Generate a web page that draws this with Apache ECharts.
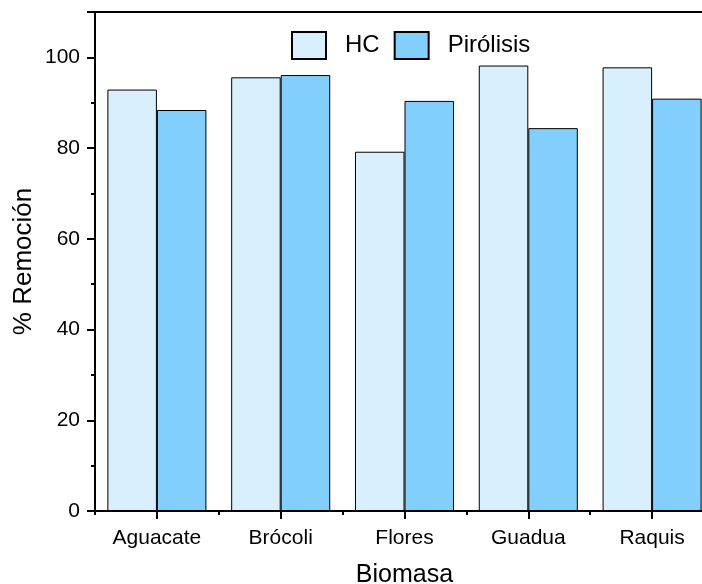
<!DOCTYPE html>
<html>
<head>
<meta charset="utf-8">
<script src="https://cdn.jsdelivr.net/npm/echarts@6/dist/echarts.min.js"></script>
<style>
html,body{margin:0;padding:0;background:#fff;}
#chart{width:702px;height:584px;}
</style>
</head>
<body>
<div id="chart"></div>
<script>
var categories = ['Aguacate', 'Brócoli', 'Flores', 'Guadua', 'Raquis'];
var hcValues = [92.9, 95.6, 79.2, 98.2, 97.8];
var pirolisisValues = [88.4, 96.1, 90.4, 84.4, 90.9];
var seriesNames = ['HC', 'Pirólisis'];
var yTickLabels = [0, 20, 40, 60, 80, 100];

var FONT = '"Liberation Sans", Arial, sans-serif';
var chart = echarts.init(document.getElementById('chart'), null, {renderer: 'canvas'});
chart.setOption({
  animation: false,
  backgroundColor: '#fff',
  textStyle: {fontFamily: FONT, color: '#000'},
  grid: {
    left: 95, top: 12, right: -12, bottom: 73,
    outerBoundsMode: 'none',
    containLabel: false,
    show: true, borderColor: '#000', borderWidth: 2, backgroundColor: 'transparent'
  },
  legend: {
    left: 291, top: 31, padding: 0,
    itemWidth: 34, itemHeight: 27, itemGap: 14,
    icon: 'rect',
    data: seriesNames,
    textStyle: {fontFamily: FONT, fontSize: 24, color: '#000', padding: [0, 0, 0, 14]}
  },
  xAxis: [{
    type: 'category',
    data: categories,
    position: 'bottom',
    name: 'Biomasa',
    nameLocation: 'middle',
    nameGap: 52,
    nameTextStyle: {fontFamily: FONT, fontSize: 25, color: '#000'},
    axisLine: {show: true, lineStyle: {color: '#000', width: 2}},
    axisTick: {show: true, alignWithLabel: true, length: 8, lineStyle: {color: '#000', width: 2}},
    axisLabel: {fontFamily: FONT, fontSize: 21, color: '#000', margin: 17},
    splitLine: {show: false}
  }, {
    type: 'category',
    data: categories,
    position: 'bottom',
    axisLine: {show: false},
    axisTick: {show: true, length: 4, lineStyle: {color: '#000', width: 2}},
    axisLabel: {show: false},
    splitLine: {show: false}
  }],
  yAxis: {
    type: 'value',
    min: 0, max: 110, interval: 20,
    name: '% Remoción',
    nameLocation: 'middle',
    nameGap: 58,
    nameMoveOverlap: false,
    nameTextStyle: {fontFamily: FONT, fontSize: 26, color: '#000'},
    axisLine: {show: true, lineStyle: {color: '#000', width: 2}},
    axisTick: {show: true, length: 8, lineStyle: {color: '#000', width: 2}},
    minorTick: {show: true, splitNumber: 2, length: 4, lineStyle: {color: '#000', width: 2}},
    axisLabel: {
      fontFamily: FONT, fontSize: 21, color: '#000', margin: 15,
      showMaxLabel: false,
      formatter: function (v) { return yTickLabels.indexOf(v) >= 0 ? String(v) : ''; }
    },
    splitLine: {show: false}
  },
  series: [{
    name: seriesNames[0],
    type: 'bar',
    xAxisIndex: 0,
    data: hcValues,
    barGap: '0%',
    barCategoryGap: '20%',
    itemStyle: {color: '#D8EFFD', borderColor: '#000', borderWidth: 1}
  }, {
    name: seriesNames[1],
    type: 'bar',
    xAxisIndex: 0,
    data: pirolisisValues,
    barGap: '0%',
    barCategoryGap: '20%',
    itemStyle: {color: '#82CFFD', borderColor: '#000', borderWidth: 1}
  }]
});
</script>
</body>
</html>
